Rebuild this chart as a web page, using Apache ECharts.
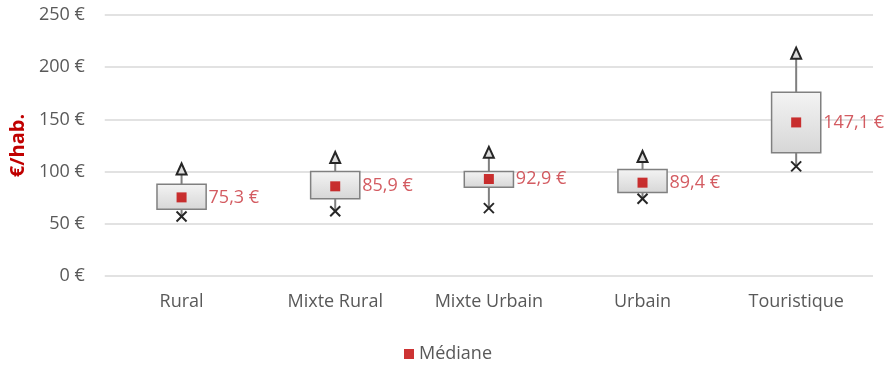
<!DOCTYPE html>
<html>
<head>
<meta charset="utf-8">
<script src="https://cdn.jsdelivr.net/npm/echarts@6/dist/echarts.min.js"></script>
<style>
  html, body { margin: 0; padding: 0; background: #fff; }
  #chart { width: 896px; height: 370px; }
</style>
</head>
<body>
<div id="chart"></div>
<script>
// Dépense par habitant selon le type de commune
const categories = ['Rural', 'Mixte Rural', 'Mixte Urbain', 'Urbain', 'Touristique'];
const minValues = [57, 62, 65, 74, 105];
const q1Values = [64, 74, 85, 80, 118];
const q3Values = [88, 100, 100, 102, 176];
const maxValues = [102, 113, 118, 114, 213];
const medianValues = [75.3, 85.9, 92.9, 89.4, 147.1];
const yTicks = { min: 0, max: 250, interval: 50 };

const FONT = '"Open Sans", "Noto Sans", sans-serif';
const RED = '#c00000';
const GREY_TEXT = '#595959';

const boxData = categories.map((c, i) => [i, minValues[i], q1Values[i], q3Values[i], maxValues[i]]);

// Boîte (Q1–Q3), moustaches, triangle au maximum et croix au minimum
function renderBox(params, api) {
  const i = api.value(0);
  const pMin = api.coord([i, api.value(1)]);
  const pQ1 = api.coord([i, api.value(2)]);
  const pQ3 = api.coord([i, api.value(3)]);
  const pMax = api.coord([i, api.value(4)]);
  const cx = pMin[0];
  const w = api.size([1, 0])[0] * 0.32;
  const lineStyle = { stroke: '#7f7f7f', lineWidth: 2 };
  const xs = 5;
  return {
    type: 'group',
    children: [
      { type: 'line', shape: { x1: cx, y1: pMax[1], x2: cx, y2: pQ3[1] }, style: lineStyle },
      { type: 'line', shape: { x1: cx, y1: pQ1[1], x2: cx, y2: pMin[1] }, style: lineStyle },
      {
        type: 'rect',
        shape: { x: cx - w / 2, y: pQ3[1], width: w, height: pQ1[1] - pQ3[1] },
        style: {
          fill: new echarts.graphic.LinearGradient(0, 0, 0, 1, [
            { offset: 0, color: '#f4f4f4' },
            { offset: 1, color: '#d6d6d6' }
          ]),
          stroke: '#808080',
          lineWidth: 1.5
        }
      },
      {
        type: 'polygon',
        shape: { points: [[cx, pMax[1] - 6], [cx - 5, pMax[1] + 5], [cx + 5, pMax[1] + 5]] },
        style: { fill: '#dcdcdc', stroke: '#262626', lineWidth: 2 }
      },
      { type: 'line', shape: { x1: cx - xs, y1: pMin[1] - xs, x2: cx + xs, y2: pMin[1] + xs }, style: { stroke: '#262626', lineWidth: 2 } },
      { type: 'line', shape: { x1: cx - xs, y1: pMin[1] + xs, x2: cx + xs, y2: pMin[1] - xs }, style: { stroke: '#262626', lineWidth: 2 } }
    ]
  };
}

const chart = echarts.init(document.getElementById('chart'), null, { renderer: 'canvas' });
chart.setOption({
  animation: false,
  grid: { left: 102, right: 23, top: 15, bottom: 94 },
  legend: {
    data: [{ name: 'Médiane', icon: 'rect' }],
    bottom: 2,
    left: 'center',
    itemWidth: 10,
    itemHeight: 10,
    itemGap: 6,
    textStyle: { fontFamily: FONT, fontSize: 18, color: GREY_TEXT }
  },
  xAxis: {
    type: 'category',
    data: categories,
    axisLine: { show: false },
    axisTick: { show: false },
    axisLabel: { fontFamily: FONT, fontSize: 18, color: GREY_TEXT, margin: 17 }
  },
  yAxis: {
    type: 'value',
    min: yTicks.min,
    max: yTicks.max,
    interval: yTicks.interval,
    name: '€/hab.',
    nameLocation: 'middle',
    nameGap: 74,
    nameTextStyle: { fontFamily: FONT, fontSize: 20, fontWeight: 'bold', color: RED },
    axisLine: { show: false },
    axisTick: { show: false },
    axisLabel: { fontFamily: FONT, fontSize: 18, color: GREY_TEXT, margin: 20, formatter: '{value} €' },
    splitLine: { lineStyle: { color: '#d9d9d9', width: 1.5 } }
  },
  series: [
    {
      type: 'custom',
      name: 'Boîte',
      renderItem: renderBox,
      encode: { x: 0, y: [1, 2, 3, 4] },
      data: boxData,
      z: 2
    },
    {
      type: 'scatter',
      name: 'Médiane',
      data: medianValues,
      symbol: 'rect',
      symbolSize: 10,
      itemStyle: { color: RED },
      label: {
        show: true,
        position: 'right',
        distance: 22,
        fontFamily: FONT,
        fontSize: 18,
        color: '#c8323a',
        formatter: p => p.value.toFixed(1).replace('.', ',') + ' €'
      },
      z: 3
    }
  ]
});
</script>
</body>
</html>
